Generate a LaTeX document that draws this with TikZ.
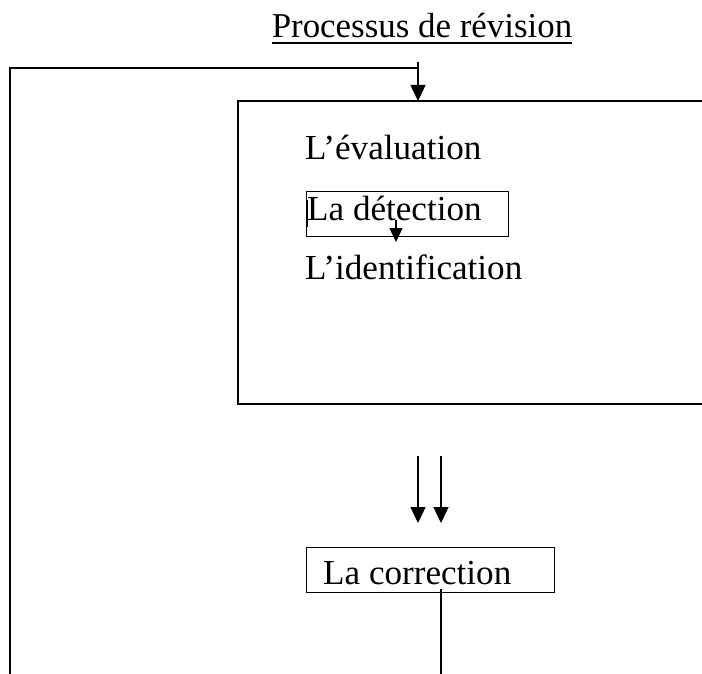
\documentclass[tikz,border=0pt]{standalone}
\usepackage{fontspec}
\setmainfont{Liberation Serif}
\usetikzlibrary{arrows.meta}
\begin{document}
\begin{tikzpicture}[x=1pt,y=-1pt,
  ln/.style={line width=1.3pt},
  arr/.style={ln,-{Triangle[width=15pt,length=16pt]}},
  lbl/.style={anchor=base west,inner sep=0pt,font=\fontsize{35.1}{40}\selectfont},
  boxn/.style={draw,ln,anchor=north west,inner sep=0pt}]
\useasboundingbox (0,0) rectangle (702,674);
% title
\node[anchor=base,inner sep=0pt,font=\fontsize{34.9}{40}\selectfont] (title) at (422,38) {Processus de révision};
\draw[line width=1.5pt] ([yshift=-5pt]title.base west) -- ([yshift=-5pt]title.base east);
% big box (open on the right)
\coordinate (bbtr) at (702,101);
\coordinate (bbtl) at (238,101);
\coordinate (bbbl) at (238,404);
\coordinate (bbbr) at (702,404);
\draw[ln] (bbtr) -- (bbtl) -- (bbbl) -- (bbbr);
\coordinate (bbin) at (418,101);
% feedback loop
\coordinate (loopbot) at (10,674);
\coordinate (loopcorner) at (10,68);
\coordinate (looptop) at (418,62);
\draw[ln] (loopbot) -- (loopcorner) -- (418,68);
\draw[arr] (looptop) -- (bbin);
% texts in big box
\node[lbl] (eval) at (305,160) {L’évaluation};
\node[boxn,minimum width=202pt,minimum height=45pt] (detbox) at (306,191) {};
\node[lbl] (det) at (307,220) {La détection};
\coordinate (tickA) at (307,200);
\coordinate (tickB) at (307,227);
\draw[ln] (tickA) -- (tickB);
\coordinate (detarrA) at (396,220);
\coordinate (detarrB) at (396,242);
\draw[ln,-{Triangle[width=13pt,length=14pt]}] (detarrA) -- (detarrB);
\node[lbl] (ident) at (305,279) {L’identification};
% arrows to correction
\coordinate (a1s) at (418,456);
\coordinate (a1e) at (418,523);
\coordinate (a2s) at (441,456);
\coordinate (a2e) at (441,523);
\draw[arr] (a1s) -- (a1e);
\draw[arr] (a2s) -- (a2e);
% correction
\node[boxn,minimum width=248pt,minimum height=45pt] (corbox) at (306,547) {};
\node[lbl] (cor) at (323,584) {La correction};
\coordinate (cordown) at (441,674);
\draw[ln] (441,589) -- (cordown);
\end{tikzpicture}
\end{document}
